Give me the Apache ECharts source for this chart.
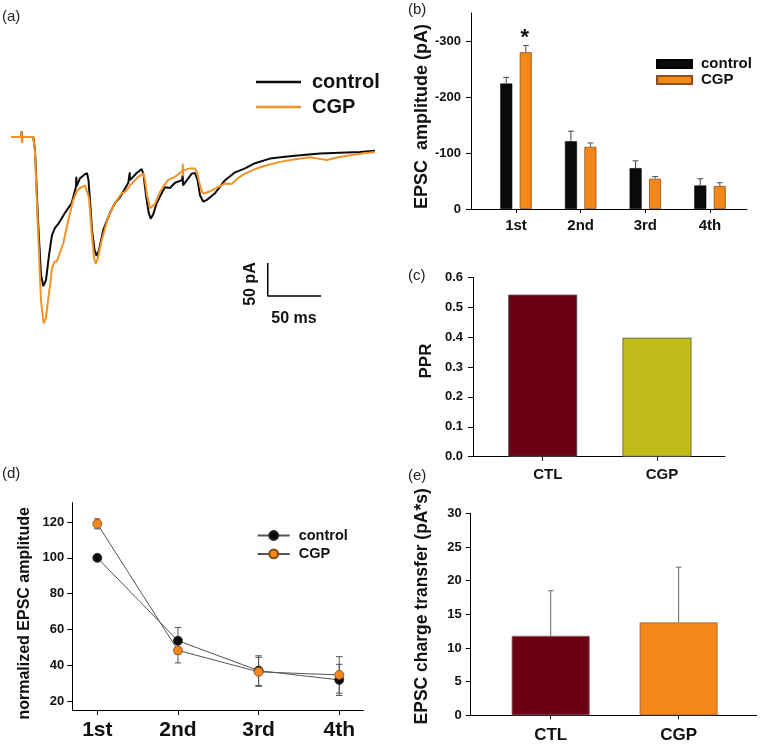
<!DOCTYPE html>
<html>
<head>
<meta charset="utf-8">
<script src="https://cdn.jsdelivr.net/npm/echarts@6/dist/echarts.min.js"></script>
<style>html,body{margin:0;padding:0;background:#fff}#c{width:760px;height:755px}</style>
</head>
<body>
<div id="c"></div>
<script>
// ---------- DATA ----------
// (a) EPSC traces: [time (ms), current (pA)]
const controlTrace = [[0,0],[6.6,0],[9.8,0],[10.0,9],[10.3,-9],[10.6,0],[20.9,0],[22.5,-20],[25.3,-127],[28.1,-211],[30.3,-228],[32.8,-219],[35.6,-181],[38.4,-150],[41.2,-139],[44.3,-133],[50.6,-116],[56.9,-101],[60.9,-76],[61.2,-61],[61.5,-75],[64.7,-63],[68.4,-58],[71.2,-55],[72.6,-66],[74.0,-96],[75.9,-142],[78.3,-173],[80.3,-182],[82.5,-173],[86.5,-142],[92.8,-116],[97.5,-101],[102.2,-92],[109.9,-70],[111.3,-54],[111.5,-66],[117.8,-55],[122.5,-49],[124.2,-58],[126.5,-89],[128.9,-115],[130.9,-125],[133.1,-119],[136.6,-101],[142.7,-81],[144.3,-77],[149.0,-78],[153.7,-70],[160.3,-66],[160.9,-58],[161.2,-74],[169.4,-56],[172.4,-55],[174.8,-66],[177.1,-89],[180.2,-99],[183.7,-96],[191.2,-86],[200.6,-66],[210,-54],[219.3,-48],[228.7,-40],[242.7,-33],[256.8,-30],[270.9,-28],[289.6,-25],[308.3,-24],[327.1,-23],[341.1,-21]];
const cgpTrace = [[0,0],[9.8,0],[10.0,9],[10.3,-9],[10.6,0],[20.9,0],[22.5,-23],[25.3,-142],[28.1,-250],[30.5,-285],[32.8,-277],[34.7,-250],[36.6,-227],[38.4,-201],[40.6,-191],[43.1,-190],[45.0,-181],[49.0,-163],[53.7,-127],[58.4,-96],[61.6,-83],[64.7,-78],[69.4,-74],[71.2,-77],[73.1,-93],[75.4,-142],[77.8,-185],[79.4,-194],[81.5,-185],[85.0,-158],[91.2,-122],[97.5,-101],[103.7,-86],[106.8,-84],[110,-78],[111.5,-74],[119.3,-61],[124,-56],[125.6,-66],[127.5,-89],[130.3,-109],[132.1,-110],[135,-102],[139.6,-84],[142.7,-76],[147.1,-66],[153.7,-61],[160.7,-52],[161.0,-41],[161.3,-60],[161.5,-51],[167.8,-48],[172.4,-48],[174.3,-54],[177.1,-74],[179.5,-86],[181.8,-86],[186.5,-83],[191.2,-79],[195.9,-75],[200.6,-71],[206.8,-72],[212.7,-63],[219.3,-56],[228.7,-49],[238,-44],[252.1,-38],[266.2,-34],[280.2,-31],[287.7,-33],[295.9,-35],[306.5,-31],[317.7,-28],[329,-25],[341.1,-23]];
const scaleBar = [[240.6,-193],[240.6,-243.5],[290.6,-243.5]]; // 50 pA / 50 ms

// (b) EPSC amplitude (pA, shown negative)
const pulseCats = ['1st','2nd','3rd','4th'];
const ctrlAmp = [224, 121, 73, 42];
const ctrlAmpErr = [11, 18, 13, 12];
const cgpAmp = [280, 111, 54, 41];
const cgpAmpErr = [12, 7, 4, 6];
const sigStars = ['*','','',''];
const ampTicks = [0,100,200,300];

// (c) PPR
const groupCats = ['CTL','CGP'];
const pprVals = [0.542, 0.398];

// (d) normalized amplitude
const ctrlNorm = [100, 53.7, 37, 31.8];
const ctrlNormErr = [0, 7.4, 8.3, 8.7];
const cgpNorm = [119, 48.3, 36.3, 34.6];
const cgpNormErr = [2.8, 7, 8.1, 10.2];
const normTicks = [20,40,60,80,100,120];

// (e) charge transfer
const chargeVals = [11.8, 13.8];
const chargeErr = [6.7, 8.2];

// ---------- STYLE ----------
const FONT = '"Liberation Sans", Arial, sans-serif';
const BLACK = '#0a0a0a', ORANGE = '#f5861a', TRACE_OR = '#f39325';
const MAROON = '#6b0014', OLIVE = '#c0bc1a';
const LINE_ICON = 'path://M0,0L45,0L45,2.5L0,2.5Z';

const chart = echarts.init(document.getElementById('c'), null, {renderer:'canvas'});

function pairs(vals, extra){ return vals.map((v,i)=> extra ? [i+1, v, extra[i]] : [i+1, v]); }

function axisBase(){
  return {
    splitLine:{show:false},
    axisLine:{show:true, onZero:false, lineStyle:{color:'#000', width:1}},
    axisTick:{show:true, length:5, lineStyle:{color:'#000'}},
    axisLabel:{color:'#111', fontWeight:'bold', fontFamily:FONT},
    nameTextStyle:{color:'#111', fontWeight:'bold', fontFamily:FONT}
  };
}
function merge(a,b){ for(const k in b){ if(b[k] && typeof b[k]==='object' && !Array.isArray(b[k]) && a[k] && typeof a[k]==='object') a[k]=merge(Object.assign({},a[k]),b[k]); else a[k]=b[k]; } return a; }
function ax(extra){ return merge(axisBase(), extra); }

function errSeries(name, xi, yi, data, offset, cap, both, color, stars){
  return {
    name, type:'custom', xAxisIndex:xi, yAxisIndex:yi, z:3, silent:true,
    data,
    renderItem(params, api){
      const x = api.value(0), v = api.value(1), e = api.value(2);
      const children = [];
      const top = api.coord([x, v+e]);
      const mid = api.coord([x, v]);
      const bot = api.coord([x, v-e]);
      const cx = top[0] + offset;
      const st = {stroke: color, lineWidth: 1};
      if (e > 0) {
        children.push({type:'line', shape:{x1:cx, y1: both ? bot[1] : mid[1], x2:cx, y2:top[1]}, style:st});
        children.push({type:'line', shape:{x1:cx-cap/2, y1:top[1], x2:cx+cap/2, y2:top[1]}, style:st});
        if (both) children.push({type:'line', shape:{x1:cx-cap/2, y1:bot[1], x2:cx+cap/2, y2:bot[1]}, style:st});
      }
      if (stars && stars[params.dataIndex]) {
        children.push({type:'text', x:cx-1, y:top[1]-8, style:{text:stars[params.dataIndex], fontSize:22, fontWeight:'bold', fontFamily:FONT, fill:'#111', align:'center', verticalAlign:'middle'}});
      }
      return {type:'group', children};
    }
  };
}

const option = {
  backgroundColor:'#ffffff',
  animation:false,
  textStyle:{fontFamily:FONT},
  grid:[
    {left:11, top:124, width:364, height:209, outerBoundsMode:'none'},
    {left:471, top:13, width:276, height:196, outerBoundsMode:'none'},
    {left:473, top:277.3, width:252, height:179.4, outerBoundsMode:'none'},
    {left:72.3, top:502.7, width:291, height:207.3, outerBoundsMode:'none'},
    {left:470.7, top:513.3, width:286, height:202, outerBoundsMode:'none'}
  ],
  xAxis:[
    {gridIndex:0, type:'value', min:0, max:341.1, show:false},
    ax({gridIndex:1, type:'value', min:0.304, max:4.572,
        axisTick:{customValues:[1,2,3,4], length:4},
        axisLabel:{customValues:[1,2,3,4], formatter:v=>pulseCats[Math.round(v)-1], fontSize:15, margin:9}}),
    ax({gridIndex:2, type:'value', min:0.39, max:2.595,
        axisTick:{customValues:[1,2], length:4},
        axisLabel:{customValues:[1,2], formatter:v=>groupCats[Math.round(v)-1], fontSize:15, margin:11, padding:[0,0,0,10]}}),
    ax({gridIndex:3, type:'value', min:0.69, max:4.298,
        axisTick:{customValues:[1,2,3,4], length:5},
        axisLabel:{customValues:[1,2,3,4], formatter:v=>pulseCats[Math.round(v)-1], fontSize:21, margin:10}}),
    ax({gridIndex:4, type:'value', min:0.375, max:2.61,
        axisTick:{customValues:[1,2], length:4},
        axisLabel:{customValues:[1,2], formatter:v=>groupCats[Math.round(v)-1], fontSize:17, margin:12}})
  ],
  yAxis:[
    {gridIndex:0, type:'value', min:-300, max:20, show:false},
    ax({gridIndex:1, type:'value', min:0, max:350,
        axisTick:{customValues:ampTicks},
        axisLabel:{customValues:ampTicks, formatter:v=> v===0 ? '0' : '-' + v, fontSize:13, margin:10},
        name:'EPSC  amplitude (pA)', nameLocation:'middle', nameGap:39, nameTextStyle:{fontSize:18, padding:[0,11,0,0]}}),
    ax({gridIndex:2, type:'value', min:0, max:0.6, interval:0.1,
        axisLabel:{formatter:v=>v.toFixed(1), fontSize:13, margin:10},
        name:'PPR', nameLocation:'middle', nameGap:38, nameTextStyle:{fontSize:17, padding:[0,0,0,12]}}),
    ax({gridIndex:3, type:'value', min:15, max:130.8,
        axisTick:{customValues:normTicks},
        axisLabel:{customValues:normTicks, fontSize:13, margin:8},
        name:'normalized EPSC amplitude', nameLocation:'middle', nameGap:40, nameTextStyle:{fontSize:16, padding:[0,14,0,0]}}),
    ax({gridIndex:4, type:'value', min:0, max:30, interval:5,
        axisLabel:{fontSize:13, margin:9},
        name:'EPSC charge transfer (pA*s)', nameLocation:'middle', nameGap:40, nameTextStyle:{fontSize:17.5, padding:[0,0,0,16]}})
  ],
  legend:[
    {left:256, top:72, orient:'vertical', padding:0, itemGap:5, itemWidth:45, itemHeight:14,
     data:[{name:'a:control', icon:LINE_ICON}, {name:'a:CGP', icon:LINE_ICON}], formatter:n=>n.split(':')[1],
     textStyle:{fontSize:20, fontWeight:'bold', color:'#111', lineHeight:20, padding:[0,0,0,6]}},
    {left:656, top:56, orient:'vertical', padding:0, itemGap:0, itemWidth:35, itemHeight:8, icon:'rect',
     data:['b:control','b:CGP'], formatter:n=>n.split(':')[1],
     textStyle:{fontSize:15, fontWeight:'bold', color:'#111', lineHeight:16, padding:[0,0,0,4]}},
    {left:256.7, top:527.5, orient:'vertical', padding:0, itemGap:2.4, itemWidth:32, itemHeight:11,
     data:['d:control','d:CGP'], formatter:n=>n.split(':')[1],
     textStyle:{fontSize:14.5, fontWeight:'bold', color:'#111', lineHeight:16, padding:[0,0,0,4]}}
  ],
  series:[
    // (a)
    {name:'a:control', type:'line', xAxisIndex:0, yAxisIndex:0, data:controlTrace, symbol:'none', lineStyle:{color:BLACK, width:2}, itemStyle:{color:BLACK}, z:2},
    {name:'a:CGP', type:'line', xAxisIndex:0, yAxisIndex:0, data:cgpTrace, symbol:'none', lineStyle:{color:TRACE_OR, width:2}, itemStyle:{color:TRACE_OR}, z:3},
    {name:'scale', type:'line', xAxisIndex:0, yAxisIndex:0, data:scaleBar, symbol:'none', lineStyle:{color:'#000', width:1.5}, silent:true},
    // (b)
    {name:'b:control', type:'bar', xAxisIndex:1, yAxisIndex:1, data:pairs(ctrlAmp), barWidth:12, barGap:'62%',
     itemStyle:{color:BLACK, borderColor:'#000', borderWidth:0.5}},
    {name:'b:CGP', type:'bar', xAxisIndex:1, yAxisIndex:1, data:pairs(cgpAmp), barWidth:12, barGap:'62%',
     itemStyle:{color:ORANGE, borderColor:'#8a5020', borderWidth:0.8}},
    errSeries('bErrCtrl', 1, 1, pairs(ctrlAmp, ctrlAmpErr), -9.8, 6, false, '#444'),
    errSeries('bErrCgp', 1, 1, pairs(cgpAmp, cgpAmpErr), 9.8, 6, false, '#555', sigStars),
    // (c)
    {name:'PPR', type:'bar', xAxisIndex:2, yAxisIndex:2, barWidth:69,
     data:pprVals.map((v,i)=>({value:[i+1, v], itemStyle:{color:[MAROON, OLIVE][i]}})),
     itemStyle:{borderColor:'#555', borderWidth:0.8}},
    // (d)
    errSeries('dErrCtrl', 3, 3, pairs(ctrlNorm, ctrlNormErr), 0, 6.5, true, '#555'),
    errSeries('dErrCgp', 3, 3, pairs(cgpNorm, cgpNormErr), 0, 6.5, true, '#555'),
    {name:'d:control', type:'line', xAxisIndex:3, yAxisIndex:3, data:pairs(ctrlNorm), symbol:'circle', symbolSize:9,
     lineStyle:{color:'#555', width:1}, itemStyle:{color:BLACK, borderColor:'#222', borderWidth:0.8}, z:4},
    {name:'d:CGP', type:'line', xAxisIndex:3, yAxisIndex:3, data:pairs(cgpNorm), symbol:'circle', symbolSize:9,
     lineStyle:{color:'#555', width:1}, itemStyle:{color:ORANGE, borderColor:'#7a4a1a', borderWidth:0.8}, z:5},
    // (e)
    {name:'charge', type:'bar', xAxisIndex:4, yAxisIndex:4, barWidth:78,
     data:chargeVals.map((v,i)=>({value:[i+1, v], itemStyle:{color:[MAROON, ORANGE][i]}})),
     itemStyle:{borderColor:'#8a6a5a', borderWidth:0.8}},
    errSeries('eErr', 4, 4, pairs(chargeVals, chargeErr), 0, 5.5, false, '#666')
  ],
  graphic:[
    {type:'text', x:2, y:17, style:{text:'(a)', fontSize:15, fill:'#222', fontFamily:FONT, verticalAlign:'middle'}},
    {type:'text', x:408, y:10, style:{text:'(b)', fontSize:15, fill:'#222', fontFamily:FONT, verticalAlign:'middle'}},
    {type:'text', x:408, y:276, style:{text:'(c)', fontSize:15, fill:'#222', fontFamily:FONT, verticalAlign:'middle'}},
    {type:'text', x:2, y:474, style:{text:'(d)', fontSize:15, fill:'#222', fontFamily:FONT, verticalAlign:'middle'}},
    {type:'text', x:408, y:476, style:{text:'(e)', fontSize:15, fill:'#222', fontFamily:FONT, verticalAlign:'middle'}},
    {type:'text', x:250.6, y:284, rotation:Math.PI/2, style:{text:'50 pA', fontSize:16, fontWeight:'bold', fill:'#111', fontFamily:FONT, align:'center', verticalAlign:'middle'}},
    {type:'text', x:294, y:318.5, style:{text:'50 ms', fontSize:16, fontWeight:'bold', fill:'#111', fontFamily:FONT, align:'center', verticalAlign:'middle'}}
  ]
};
chart.setOption(option);
</script>
</body>
</html>
